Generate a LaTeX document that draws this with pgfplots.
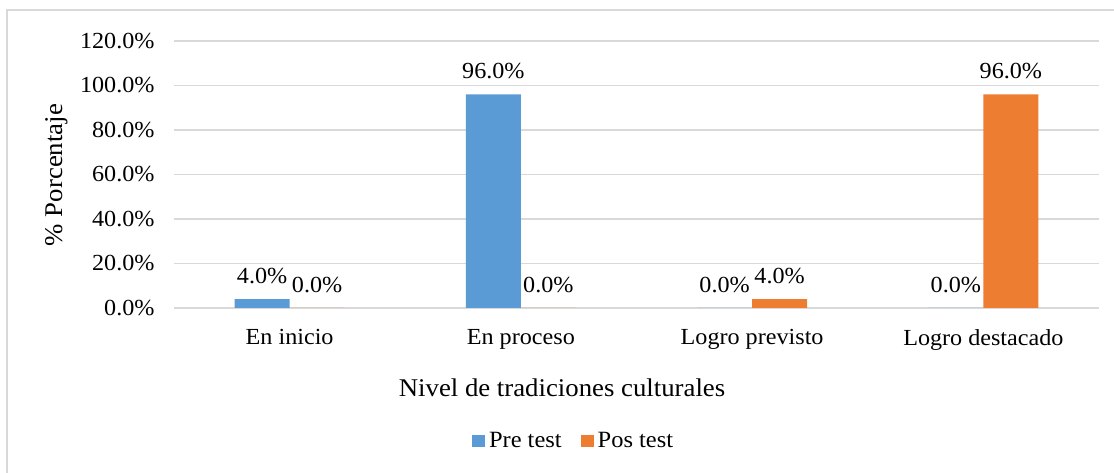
\documentclass[border=0pt]{standalone}
\usepackage{pgfplots}
\pgfplotsset{compat=1.18}
\usepackage{fontspec}
\setmainfont{Liberation Serif}[FakeStretch=1.05]
\definecolor{preblue}{HTML}{5B9BD5}
\definecolor{posorange}{HTML}{ED7D31}
\definecolor{gridgray}{HTML}{D9D9D9}
\begin{document}
\begin{tikzpicture}[x=1bp,y=1bp]
\path[use as bounding box] (0,0) rectangle (1114,473);
\draw[gridgray, line width=1.5bp] (7,0) -- (7,463) -- (1114,463);
\begin{axis}[
  at={(174bp,165bp)}, anchor=south west,
  scale only axis, width=925bp, height=267bp,
  xmin=-0.5, xmax=3.5, ymin=0, ymax=120,
  axis line style={draw=none},
  ytick={0,20,40,60,80,100,120},
  yticklabels={0.0\%,20.0\%,40.0\%,60.0\%,80.0\%,100.0\%,120.0\%},
  xtick={0,1,2,3},
  xticklabels={En inicio,En proceso,Logro previsto,Logro destacado},
  major tick length=0pt,
  ymajorgrids, grid style={gridgray, line width=1.3bp},
  tick label style={font=\fontsize{23bp}{27bp}\selectfont},
  yticklabel style={xshift=-16bp},
  xticklabel style={yshift=-18bp},
  xlabel={Nivel de tradiciones culturales},
  ylabel={\% Porcentaje},
  label style={font=\fontsize{25.5bp}{30bp}\selectfont},
  xlabel style={at={(axis description cs:0.4195,-0.2996)}, anchor=center},
  ylabel style={at={(axis description cs:-0.1265,0.498)}, anchor=center},
  ybar, bar width=55bp,
  nodes near coords={\pgfmathprintnumber[fixed,fixed zerofill,precision=1,assume math mode=true]{\pgfplotspointmeta}\%},
  every node near coord/.append style={font=\fontsize{23bp}{27bp}\selectfont, text=black, yshift=12bp},
  legend style={at={(axis description cs:0.432,-0.498)}, anchor=center, draw=none, legend columns=2,
    font=\fontsize{23.3bp}{27bp}\selectfont, /tikz/every even column/.append style={column sep=17bp},
    /tikz/every odd column/.append style={column sep=2bp}},
  legend image code/.code={\fill[#1] (0bp,-6bp) rectangle (13bp,6bp);},
]
\addplot+[draw=none, fill=preblue, bar shift=-27.5bp] coordinates {(0,4.0) (1,96.0) (2,0.0) (3,0.0)};
\addplot+[draw=none, fill=posorange, bar shift=27.5bp] coordinates {(0,0.0) (1,0.0) (2,4.0) (3,96.0)};
\legend{Pre test, Pos test}
\end{axis}
\end{tikzpicture}
\end{document}
